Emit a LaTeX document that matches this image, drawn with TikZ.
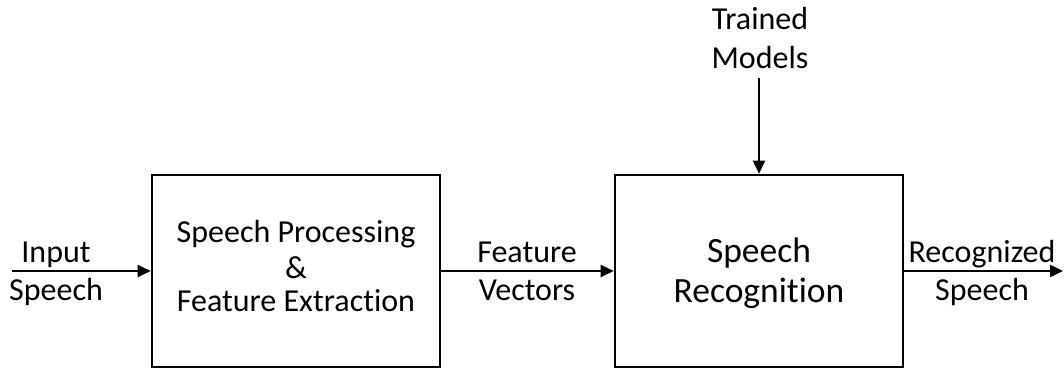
\documentclass[tikz,border=0pt]{standalone}
\usepackage{fontspec}
\setmainfont{Carlito}[Ligatures=NoCommon]
\usetikzlibrary{arrows.meta}
\begin{document}
\begin{tikzpicture}[x=1pt,y=-1pt,
  blockbox/.style={draw, line width=2.6pt, minimum width=288pt, minimum height=192pt, inner sep=0pt},
  arr/.style={line width=2.4pt, -{Triangle[length=13pt,width=12pt]}},
  lbl/.style={anchor=base, inner sep=0pt, font=\fontsize{32}{38}\selectfont},
  biglbl/.style={anchor=base, inner sep=0pt, font=\fontsize{35.5}{42}\selectfont}]
\useasboundingbox (0,0) rectangle (1064,369);
\node[blockbox] (sp) at (296,271) {};
\node[blockbox] (sr) at (759,271) {};
% box texts
\node[lbl] (sp1) at (296,242) {Speech Processing};
\node[lbl] (sp2) at (296,278) {\&};
\node[lbl] (sp3) at (296,311) {Feature Extraction};
\node[biglbl] (sr1) at (759,262) {Speech};
\node[biglbl] (sr2) at (759,302) {Recognition};
% coordinates
\coordinate (in) at (12,271);
\coordinate (out) at (1063,271);
\coordinate (tm) at (759,78);
% arrows
\draw[arr] (in) -- (sp.west);
\draw[arr] (sp.east) -- (sr.west);
\draw[arr] (sr.east) -- (out);
\draw[arr] (tm) -- (sr.north);
% labels
\node[lbl] (in1) at (56,262) {Input};
\node[lbl] (in2) at (56,300) {Speech};
\node[lbl] (fv1) at (527,262) {Feature};
\node[lbl] (fv2) at (527,300) {Vectors};
\node[lbl] (rs1) at (982,262) {Recognized};
\node[lbl] (rs2) at (982,300) {Speech};
\node[lbl] (tm1) at (760,30) {Trained};
\node[lbl] (tm2) at (760,68) {Models};
\end{tikzpicture}
\end{document}
